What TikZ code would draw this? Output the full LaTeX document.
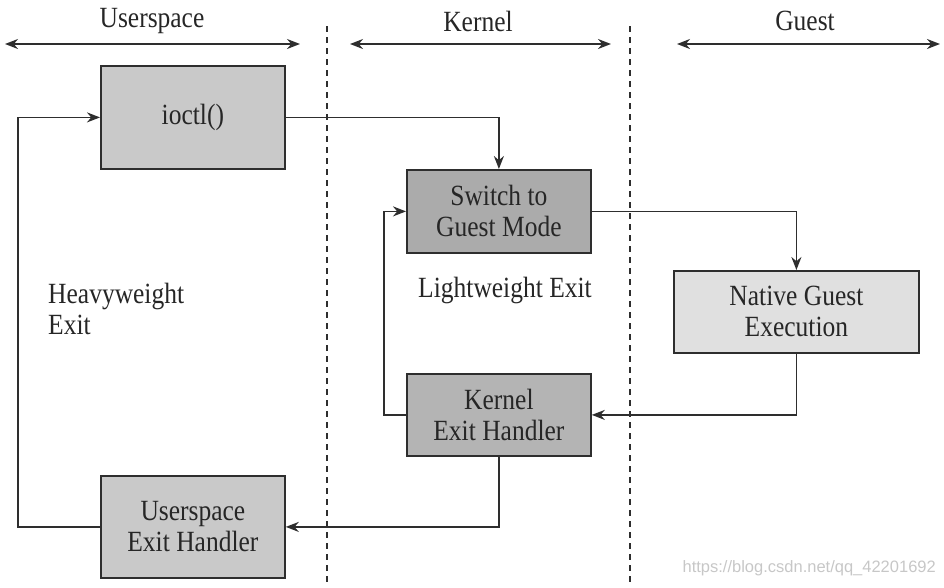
\documentclass[tikz,border=0pt]{standalone}
\usepackage{fontspec}
\setmainfont{Liberation Serif}
\newfontfamily\wmfont{Liberation Sans}
\usetikzlibrary{arrows.meta}
\definecolor{boxA}{HTML}{C9C9C9}
\definecolor{boxB}{HTML}{ABABAB}
\definecolor{boxC}{HTML}{B4B4B4}
\definecolor{boxD}{HTML}{E0E0E0}
\definecolor{edge}{HTML}{2E2E2E}
\newcommand{\vst}[1]{\scalebox{1}[1.15]{#1}}
\tikzset{
  blk/.style={draw=edge, line width=1.8pt, minimum height=#1, inner sep=0pt, anchor=north west, align=center,
    font=\fontsize{25.5}{31}\selectfont, text=black!85},
  blk/.default=83pt,
  conn/.style={draw=edge, line width=1.8pt, -{Stealth[length=13pt,width=10pt]}},
  hdr/.style={draw=edge, line width=1.8pt, {Stealth[length=13pt,width=10pt]}-{Stealth[length=13pt,width=10pt]}},
  sep/.style={draw=edge, line width=1.4pt, dash pattern=on 6pt off 5pt},
  lbl/.style={font=\fontsize{25.5}{31}\selectfont, text=black!85, inner sep=0pt},
}
\begin{document}
\begin{tikzpicture}[x=1pt,y=-1pt]
\useasboundingbox (0,0) rectangle (944,587);
% headers
\coordinate (h1a) at (5,44); \coordinate (h1b) at (300,44);
\coordinate (h2a) at (350,44); \coordinate (h2b) at (611,44);
\coordinate (h3a) at (677,44); \coordinate (h3b) at (940,44);
\draw[hdr] (h1a) -- (h1b);
\draw[hdr] (h2a) -- (h2b);
\draw[hdr] (h3a) -- (h3b);
\node[lbl] (tU) at (152,21) {\vst{Userspace}};
\node[lbl] (tK) at (478,21) {\vst{Kernel}};
\node[lbl] (tG) at (805,21) {\vst{Guest}};
% separators
\coordinate (s1a) at (327,26); \coordinate (s1b) at (327,582);
\coordinate (s2a) at (630,26); \coordinate (s2b) at (630,582);
\draw[sep] (s1a) -- (s1b);
\draw[sep] (s2a) -- (s2b);
% boxes
\node[blk=103pt, minimum width=184pt, fill=boxA] (ioctl) at (100,65) {\vst{ioctl()}};
\node[blk, minimum width=184pt, fill=boxB] (sw) at (406,169) {\vst{Switch to}\\\vst{Guest Mode}};
\node[blk=82pt, minimum width=245pt, fill=boxD] (ng) at (673,270) {\vst{Native Guest}\\\vst{Execution}};
\node[blk=82pt, minimum width=184pt, fill=boxC] (keh) at (406,373) {\vst{Kernel}\\\vst{Exit Handler}};
\node[blk=102pt, minimum width=184pt, fill=boxA] (ueh) at (100,475) {\vst{Userspace}\\\vst{Exit Handler}};
% labels
\node[lbl, align=left, anchor=west] (hw) at (48,309) {\vst{Heavyweight}\\\vst{Exit}};
\node[lbl] (lw) at (505,290) {\vst{Lightweight Exit}};
% connectors
\draw[conn] (ioctl.east) -| (sw.north);
\draw[conn] (sw.east) -| (ng.north);
\draw[conn] (ng.south) |- (keh.east);
\coordinate (kl) at (384,0);
\draw[conn] (keh.west) -| (kl |- keh.west) |- (sw.west);
\draw[conn] (keh.south) |- (ueh.east);
\coordinate (ul) at (18,0);
\draw[conn] (ueh.west) -| (ul |- ueh.west) |- (ioctl.west);
% watermark
\node[font=\fontsize{16.5}{16.5}\selectfont\wmfont, text=black!22, anchor=east, inner sep=0pt] (wm) at (936,568) {https://blog.csdn.net/qq\_42201692};
\end{tikzpicture}
\end{document}
